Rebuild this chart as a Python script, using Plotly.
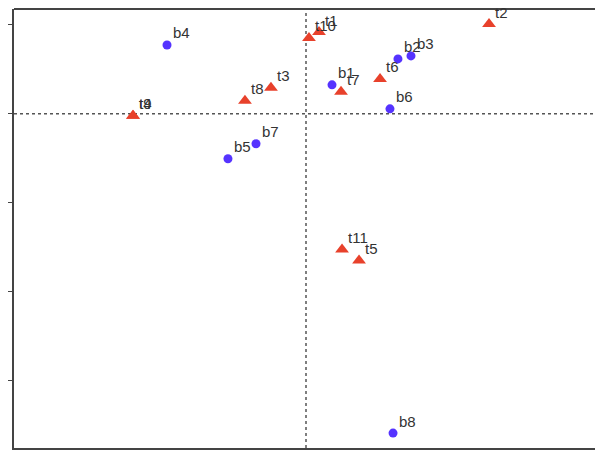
import plotly.graph_objects as go

# Blue circle series (b)
b_labels = ["b1", "b2", "b3", "b4", "b5", "b6", "b7", "b8"]
b_x = [0.306, 1.082, 1.235, -1.635, -0.918, 0.988, -0.588, 1.024]
b_y = [0.326, 0.618, 0.652, 0.775, -0.506, 0.056, -0.337, -3.596]

# Red triangle series (t)
t_labels = ["t1", "t2", "t3", "t4", "t5", "t6", "t7", "t8", "t9", "t10", "t11"]
t_x = [0.153, 2.153, -0.412, -2.035, 0.624, 0.871, 0.412, -0.718, -2.035, 0.035, 0.424]
t_y = [0.921, 1.011, 0.292, -0.022, -1.652, 0.393, 0.247, 0.146, -0.022, 0.854, -1.528]

x_ticks = [-3, -2, -1, 0, 1, 2, 3]
y_ticks = [-3, -2, -1, 0, 1]

FONT = dict(family="Liberation Sans, Arial, sans-serif", size=15, color="#333333")

fig = go.Figure()

fig.add_trace(go.Scatter(
    x=t_x, y=t_y, mode="markers",
    marker=dict(symbol="triangle-up", size=12, color="#e8412b"),
    showlegend=False, cliponaxis=False,
))
fig.add_trace(go.Scatter(
    x=b_x, y=b_y, mode="markers",
    marker=dict(symbol="circle", size=9, color="#5533ff"),
    showlegend=False, cliponaxis=False,
))

annotations = []
for lab, xv, yv in list(zip(t_labels, t_x, t_y)) + list(zip(b_labels, b_x, b_y)):
    annotations.append(dict(
        x=xv, y=yv, xref="x", yref="y", text=lab, showarrow=False,
        xanchor="left", yanchor="middle", xshift=4, yshift=12, font=FONT,
    ))

# dotted reference lines at zero
fig.add_shape(type="line", xref="x", yref="paper", x0=0, x1=0, y0=0, y1=1,
              line=dict(color="#555555", width=1.5, dash="dot"), layer="below")
fig.add_shape(type="line", xref="paper", yref="y", x0=0, x1=1, y0=0, y1=0,
              line=dict(color="#555555", width=1.5, dash="dot"), layer="below")
# top frame line
fig.add_shape(type="line", xref="paper", yref="paper", x0=0, x1=1, y0=1, y1=1,
              line=dict(color="#444444", width=2))

fig.update_xaxes(range=[-3.435, 3.588], tickvals=x_ticks, showticklabels=False,
                 ticks="outside", ticklen=10, tickwidth=1.2, tickcolor="#444444",
                 showline=True, linecolor="#444444", linewidth=1.5,
                 showgrid=False, zeroline=False, automargin=False)
fig.update_yaxes(range=[-3.764, 1.180], tickvals=y_ticks, showticklabels=False,
                 ticks="outside", ticklen=10, tickwidth=1.2, tickcolor="#444444",
                 showline=True, linecolor="#444444", linewidth=1.5,
                 showgrid=False, zeroline=False, automargin=False)

fig.update_layout(
    width=603, height=450,
    margin=dict(l=6, r=0, t=1, b=10, autoexpand=False),
    plot_bgcolor="white", paper_bgcolor="white",
    annotations=annotations,
)

fig.write_html("out.html")
